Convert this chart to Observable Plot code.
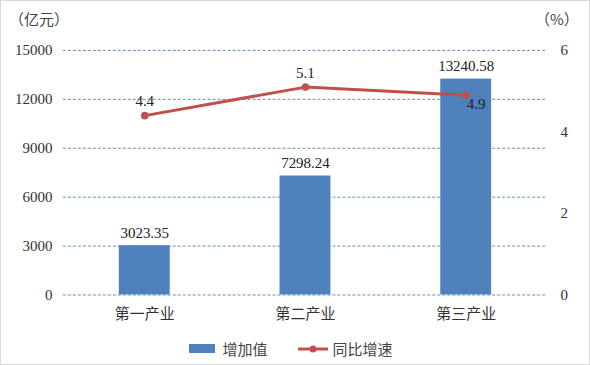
<!DOCTYPE html>
<html><head><meta charset="utf-8">
<script src="https://cdn.jsdelivr.net/npm/d3@7"></script>
<script src="https://cdn.jsdelivr.net/npm/@observablehq/plot@0.6"></script>
<style>
html,body{margin:0;padding:0;background:#fff;}
#wrap{position:relative;width:590px;height:365px;box-sizing:border-box;border:1px solid #d9d9d9;overflow:hidden;color:#333;}
#chart{position:absolute;left:-1px;top:-1px;}
#chart svg, #chart svg text{font-family:"Liberation Serif","DejaVu Serif","Times New Roman",serif !important;}
#chart svg g[aria-label="x-axis tick label"] text{font-family:"Noto Sans CJK SC",sans-serif !important;}
.unit{position:absolute;top:7px;font-size:15px;font-family:"Noto Sans CJK SC",sans-serif;color:#444;}
#legend{position:absolute;top:337px;left:0;width:590px;display:flex;justify-content:center;font-family:"Noto Sans CJK SC",sans-serif;font-size:15px;color:#444;}
.li{display:flex;align-items:center;}
</style></head>
<body>
<div id="wrap">
<div id="chart"></div>
<div class="unit" style="left:8px">（亿元）</div>
<div class="unit" style="left:534px">（%）</div>
<div id="legend">
 <div class="li" style="margin-left:-10px"><span style="display:inline-block;width:26px;height:9px;background:#4f81bd;margin-right:7px"></span>增加值</div>
 <div class="li" style="margin-left:29px"><svg width="32" height="10" style="margin-right:4px"><line x1="1" y1="5" x2="31" y2="5" stroke="#c0504d" stroke-width="3"/><circle cx="16" cy="5" r="3.5" fill="#c0504d"/></svg>同比增速</div>
</div>
</div>
<script>
const categories = ["第一产业", "第二产业", "第三产业"];
const addedValue = [3023.35, 7298.24, 13240.58];
const growthRate = [4.4, 5.1, 4.9];
const leftTicks = [0, 3000, 6000, 9000, 12000, 15000];
const rightTicks = [0, 2, 4, 6];

const k = 15000 / 6; // right axis mapped onto left scale
const data = categories.map((c, i) => ({cat: c, v: addedValue[i], g: growthRate[i], gy: growthRate[i] * k}));

const chart = Plot.plot({
  width: 590,
  height: 330,
  marginTop: 50,
  marginBottom: 35,
  marginLeft: 63,
  marginRight: 42,
  style: {fontSize: "15px", color: "#333", background: "transparent"},
  x: {domain: categories, paddingInner: 0.685, paddingOuter: 0.3425, label: null},
  y: {domain: [0, 15000], label: null},
  marks: [
    Plot.ruleY(leftTicks, {stroke: "#4f81bd", strokeWidth: 1, strokeDasharray: "3,2", strokeOpacity: 0.9}),
    Plot.barY(data, {x: "cat", y: "v", fill: "#4f81bd"}),
    Plot.text(data, {x: "cat", y: "v", text: d => d.v.toFixed(2), dy: -13, fontSize: 15, fill: "#222"}),
    Plot.line(data, {x: "cat", y: "gy", stroke: "#c0504d", strokeWidth: 3}),
    Plot.dot(data, {x: "cat", y: "gy", r: 3.8, fill: "#c0504d"}),
    Plot.text(data.filter((d, i) => i < 2), {x: "cat", y: "gy", text: d => d.g.toFixed(1), dy: -14, fontSize: 15, fill: "#222"}),
    Plot.text(data.filter((d, i) => i === 2), {x: "cat", y: "gy", text: d => d.g.toFixed(1), dx: 10, dy: 9, fontSize: 15, fill: "#222"}),
    Plot.axisY({ticks: leftTicks, tickSize: 0, tickPadding: 11, label: null, fontSize: 15, tickFormat: d => String(d)}),
    Plot.axisY({anchor: "right", ticks: rightTicks.map(t => t * k), tickSize: 0, tickPadding: 13, label: null, fontSize: 15, tickFormat: d => String(d / k)}),
    Plot.axisX({tickSize: 0, tickPadding: 13, label: null, fontSize: 15})
  ]
});
document.getElementById("chart").appendChild(chart);
</script>
</body></html>
